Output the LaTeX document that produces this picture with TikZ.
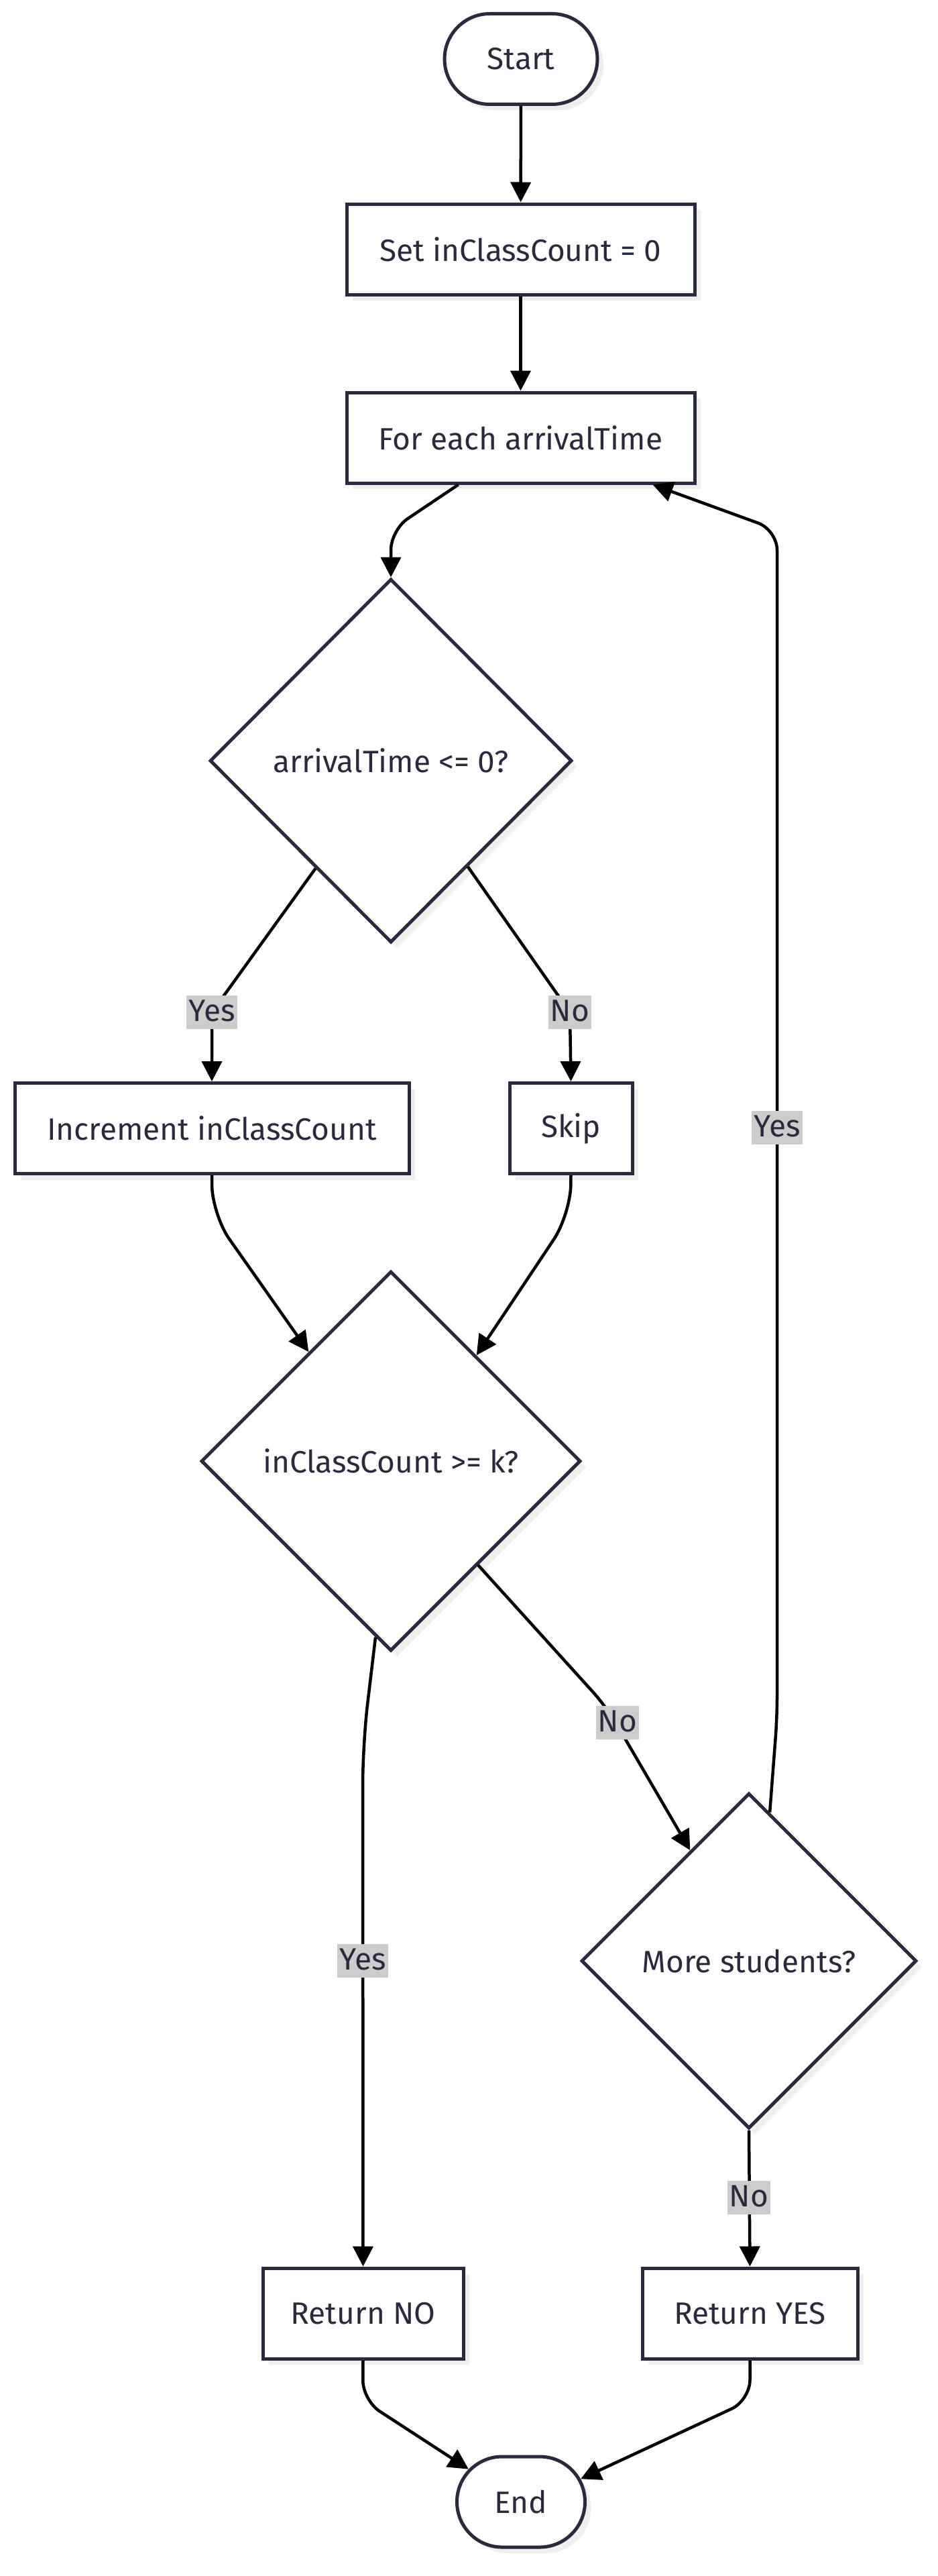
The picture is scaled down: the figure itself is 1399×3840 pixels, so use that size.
\documentclass[tikz,border=0pt]{standalone}
\usepackage{fontspec}
\setmainfont{Fira Sans}
\usetikzlibrary{shapes.geometric,shapes.misc,arrows.meta,shadows}
\definecolor{ink}{HTML}{2A2A3F}
\definecolor{shade}{HTML}{EFEFEF}
\definecolor{lblbg}{HTML}{CCCCCC}
\begin{document}
\begin{tikzpicture}[x=1pt,y=-1pt,
  base/.style={draw=ink, line width=5pt, fill=white, text=ink,
    font=\fontsize{46}{55}\selectfont,
    drop shadow={shadow xshift=9pt,shadow yshift=-9pt,fill=shade,opacity=1}},
  proc/.style={base, rectangle, minimum height=135pt, inner sep=0pt},
  term/.style={base, rounded rectangle, minimum height=135pt, inner sep=0pt},
  dec/.style={base, diamond, inner sep=0pt},
  edge/.style={draw=black, line width=4.5pt, -{Triangle[length=30pt,width=30pt]}, rounded corners=30pt},
  lbl/.style={fill=lblbg, text=ink, font=\fontsize{46}{55}\selectfont, inner xsep=3pt, inner ysep=4pt, text height=34pt, text depth=8pt}
]
\useasboundingbox[fill=white] (0,0) rectangle (1399,3840);

\node[term, minimum width=228pt] (start) at (777,88) {Start};
\node[proc, minimum width=519pt] (set) at (776.5,371.5) {Set inClassCount = 0};
\node[proc, minimum width=519pt] (for) at (776.5,652.5) {For each arrivalTime};
\node[dec, minimum width=540pt, minimum height=542pt] (d1) at (583,1134) {arrivalTime <= 0?};
\node[proc, minimum width=588pt] (inc) at (316,1682) {Increment inClassCount};
\node[proc, minimum width=183pt] (skip) at (851.5,1682) {Skip};
\node[dec, minimum width=566pt, minimum height=566pt] (d2) at (583,2178) {inClassCount >= k?};
\node[dec, minimum width=500pt, minimum height=500pt] (more) at (1117,2923) {More students?};
\node[proc, minimum width=299pt] (retno) at (541.5,3448.5) {Return NO};
\node[proc, minimum width=321pt] (retyes) at (1118.5,3448.5) {Return YES};
\node[term, minimum width=191pt] (end) at (777,3729.5) {End};

\coordinate (w1) at (583,790);
\coordinate (w2) at (316,1509);
\coordinate (w3) at (850,1509);
\coordinate (w4) at (316,1810);
\coordinate (w5) at (851,1810);
\coordinate (w6) at (541,2600);
\coordinate (w7) at (905,2545);
\coordinate (w8) at (1159,2560);
\coordinate (w9) at (1159,790);
\coordinate (w10) at (541,3578);
\coordinate (w11) at (1118.5,3578);

\draw[edge] (start) -- (set);
\draw[edge] (set) -- (for);
\draw[edge] ([xshift=-93pt]for.south) -- (w1) -- (d1.north);
\draw[edge] (d1.235) -- (w2) -- (inc.north);
\draw[edge] (d1.306) -- (w3) -- (skip.north);
\draw[edge, rounded corners=45pt] (inc.south) -- (w4) -- (d2.127);
\draw[edge, rounded corners=45pt] (skip.south) -- (w5) -- (d2.51);
\draw[edge, rounded corners=60pt] (d2.265) -- (w6) -- (retno.north);
\draw[edge] (d2.310) -- (w7) -- (more.118);
\draw[edge] (more.82) -- (w8) -- (w9) -- ([xshift=197pt]for.south);
\draw[edge] (more.south) -- (retyes.north);
\draw[edge] (retno.south) -- (w10) -- (end.148);
\draw[edge] (retyes.south) -- (w11) -- (end.21);

\node[lbl] (l1) at (316,1509) {Yes};
\node[lbl] (l2) at (850,1509) {No};
\node[lbl] (l3) at (1159,1681) {Yes};
\node[lbl] (l4) at (921,2568) {No};
\node[lbl] (l5) at (541,2923) {Yes};
\node[lbl] (l6) at (1117,3276) {No};
\end{tikzpicture}
\end{document}
